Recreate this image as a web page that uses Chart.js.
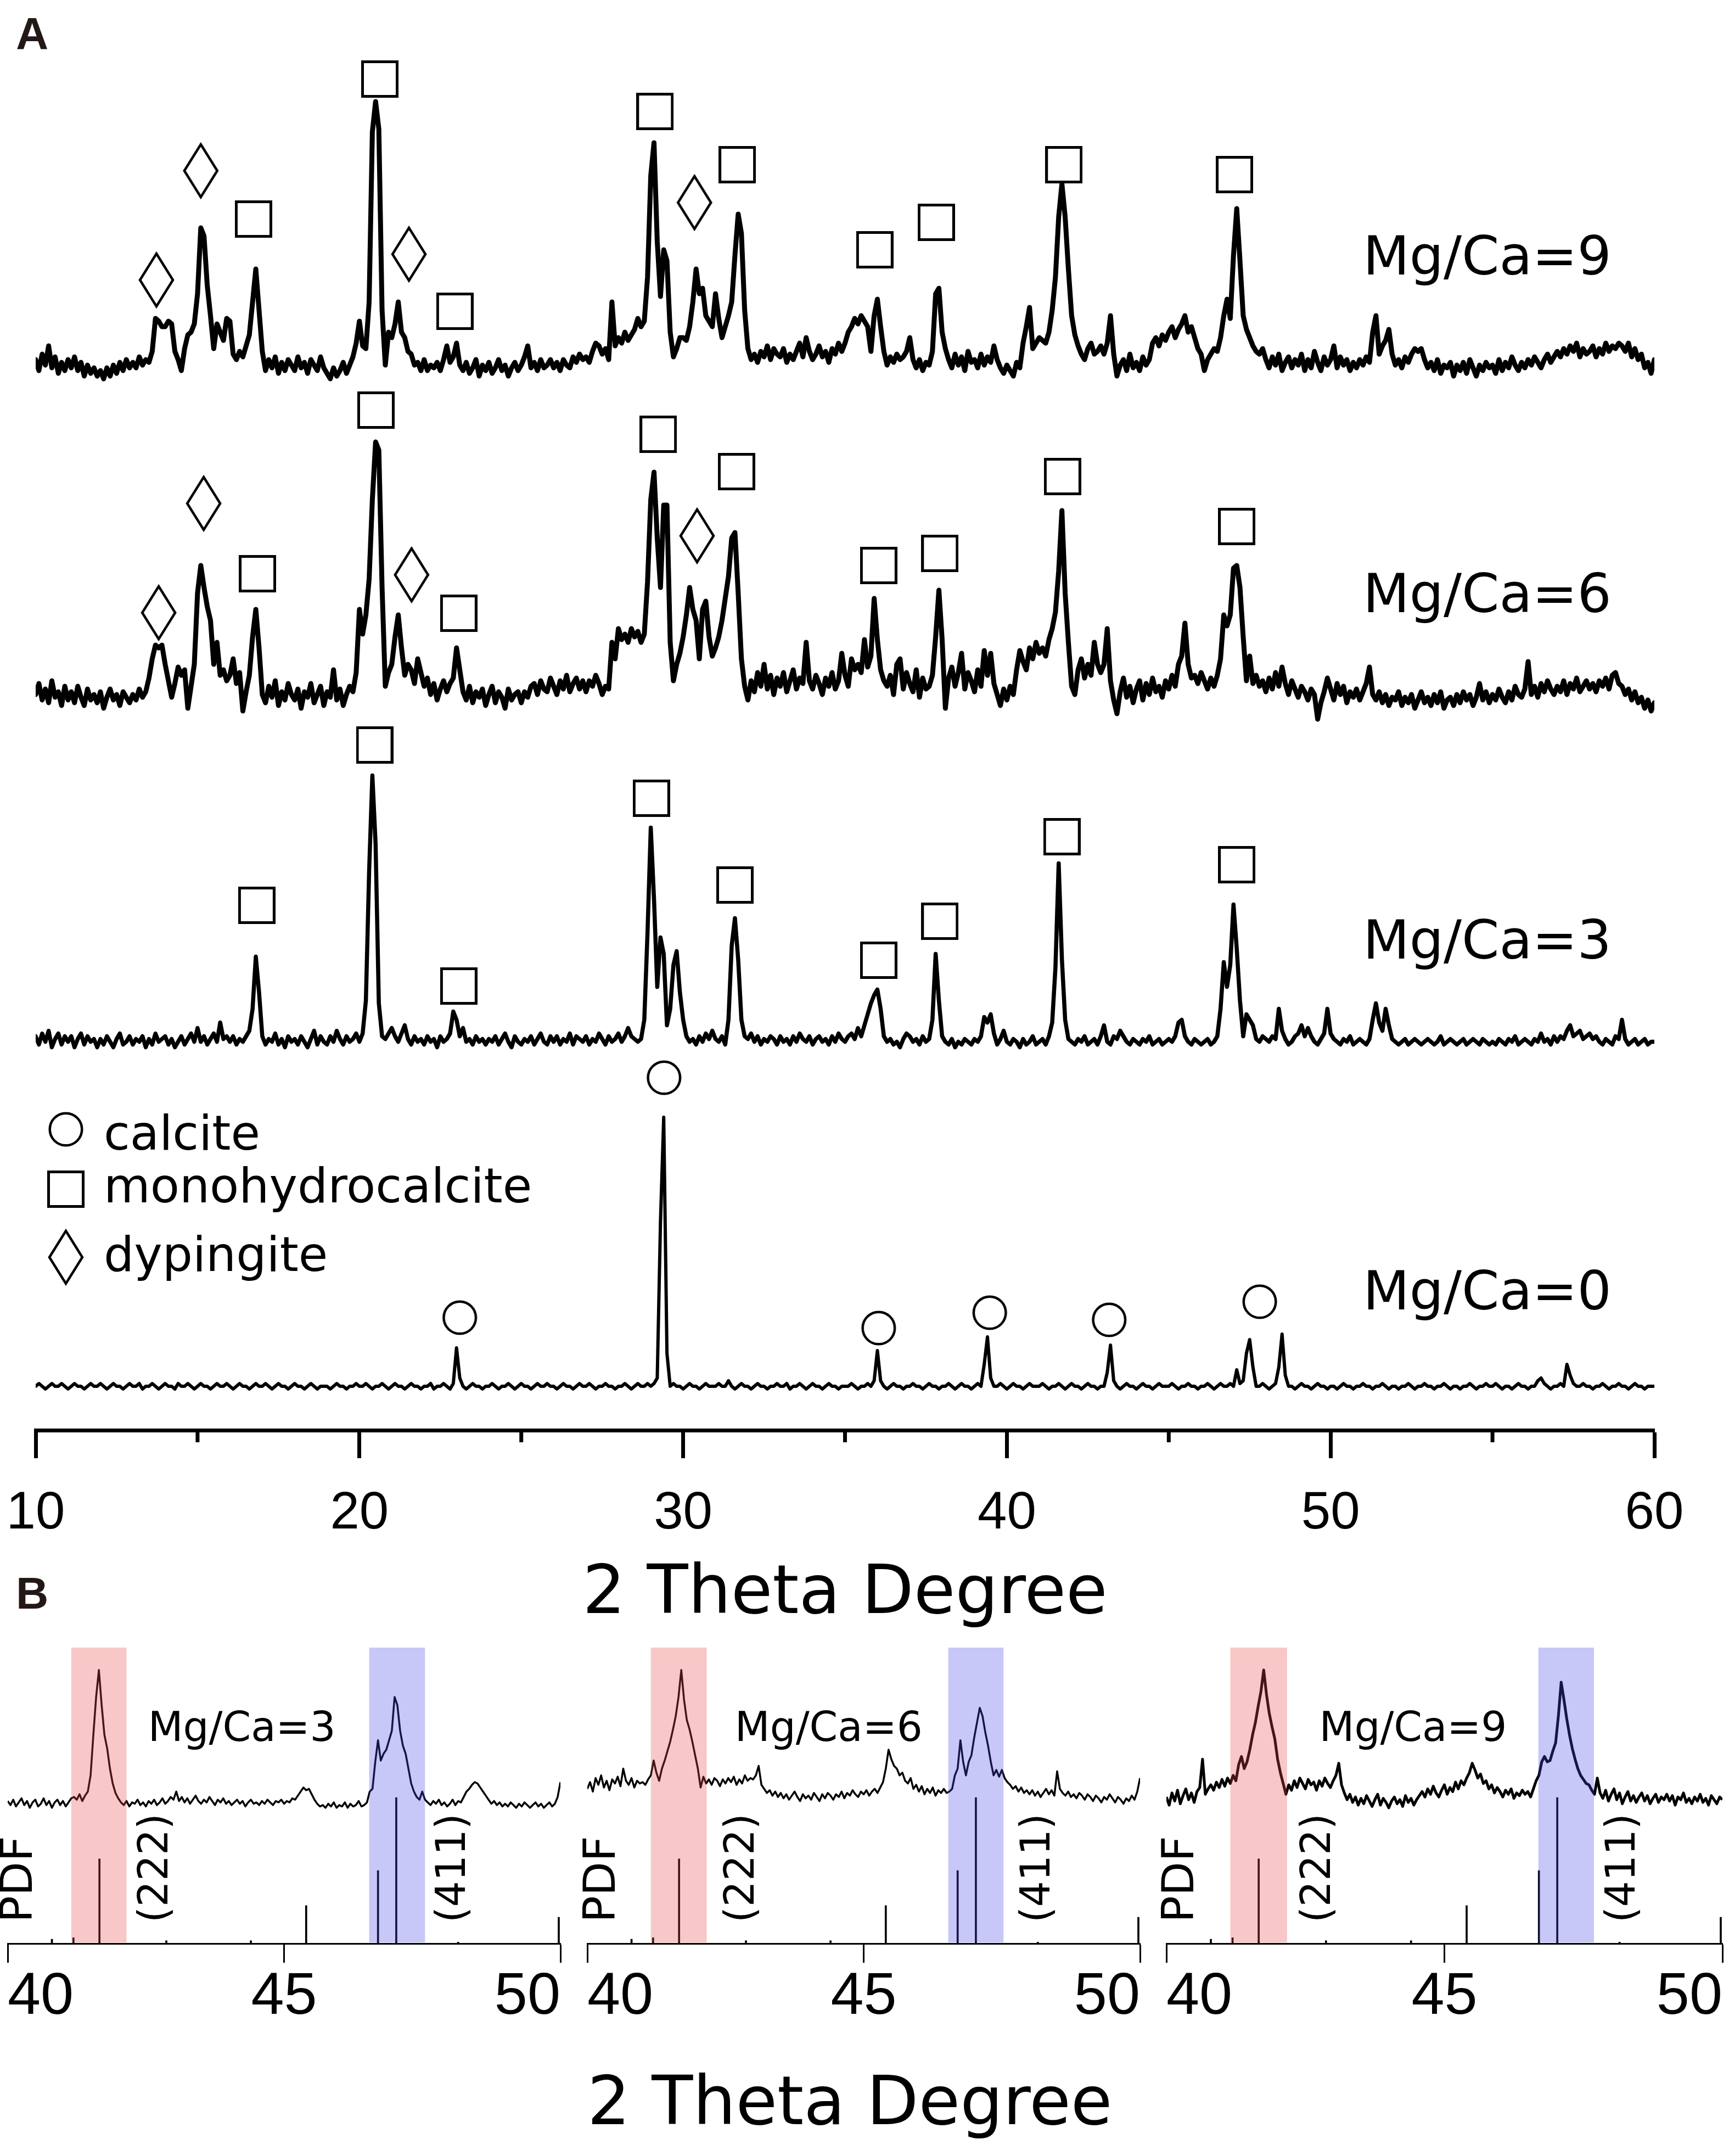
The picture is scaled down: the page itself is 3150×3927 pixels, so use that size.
<!DOCTYPE html>
<html>
<head>
<meta charset="utf-8">
<title>XRD patterns</title>
<script src="https://cdn.jsdelivr.net/npm/chart.js@4.4.1/dist/chart.umd.min.js"></script>
<style>
  html, body { margin:0; padding:0; background:#ffffff; }
  body { width:3150px; height:3927px; position:relative; overflow:hidden; }
  canvas { position:absolute; display:block; }
</style>
</head>
<body>
<canvas id="chartA" width="3150" height="3000" style="left:0;top:0;width:3150px;height:3000px;"></canvas>
<canvas id="chartB1" width="1046" height="967" style="left:0;top:2960px;width:1046px;height:967px;"></canvas>
<canvas id="chartB2" width="1052" height="967" style="left:1046px;top:2960px;width:1052px;height:967px;"></canvas>
<canvas id="chartB3" width="1052" height="967" style="left:2098px;top:2960px;width:1052px;height:967px;"></canvas>
<script>
// ---------------- DATA ----------------
// Panel A: intensity (a.u.) sampled every 0.1 deg from 10.0 to 60.0
const scanStart = 10, scanStep = 0.1;
const mgCa9 = [
12,8,14,10,17,9,13,7,11,8,
12,9,13,8,11,6,10,7,9,6,
8,5,9,6,10,7,11,8,12,9,
11,9,13,10,12,11,15,27,26,24,
24,26,25,15,12,8,16,21,22,25,
36,60,57,39,28,16,25,22,19,27,
26,14,12,15,13,17,21,33,45,30,
15,8,12,9,13,7,11,8,12,10,
8,13,9,11,7,12,10,8,13,9,
7,5,9,6,8,11,7,10,13,18,
26,17,16,33,95,106,96,30,10,22,
20,25,33,22,20,15,14,10,11,8,
12,8,10,9,11,8,12,17,11,13,
18,10,8,11,7,9,12,6,10,8,
11,7,9,12,8,10,6,9,11,8,
10,13,17,9,11,8,12,9,10,12,
9,11,8,12,10,9,13,11,14,12,
13,11,15,18,17,14,16,12,33,17,
20,18,22,19,21,23,27,24,26,42,
79,91,55,35,52,48,22,13,16,20,
20,19,24,33,45,36,38,28,26,24,
36,27,20,24,28,33,50,65,58,30,
16,12,14,11,15,13,17,12,16,14,
13,16,11,14,12,15,18,13,20,15,
12,14,17,13,15,11,16,14,18,15,
18,22,24,27,25,28,26,24,15,28,
34,24,15,10,13,11,14,12,13,15,
20,12,9,12,8,11,10,15,36,38,
22,16,12,9,14,10,13,8,15,11,
12,9,14,10,13,11,17,12,9,7,
10,8,6,11,9,18,24,31,16,18,
20,19,18,22,30,42,64,76,64,45,
28,21,17,14,12,16,18,14,15,17,
14,18,28,14,6,10,12,8,14,9,
11,8,13,10,12,18,20,17,21,19,
22,24,20,23,25,28,22,24,20,16,
14,8,12,14,16,15,20,28,34,27,
50,67,48,28,23,20,17,15,14,16,
12,9,13,10,14,8,11,13,9,12,
10,14,8,12,9,15,11,8,13,10,
12,17,9,13,10,12,8,11,9,12,
10,13,11,22,28,14,17,19,23,14,
10,12,9,13,11,14,16,15,16,12,
9,11,8,12,7,10,9,11,6,10,
8,11,7,12,9,6,10,8,11,9,
10,7,12,8,11,9,13,10,8,11,
9,12,10,13,11,9,12,14,11,13,
15,13,16,14,17,15,18,13,16,14,
15,17,13,16,14,18,15,17,16,18,
17,15,18,13,16,12,14,9,11,7,
12];
const mgCa6 = [
11,15,9,13,8,16,10,12,7,14,
9,12,8,14,10,7,13,9,11,8,
12,6,10,13,9,11,7,12,10,8,
11,9,13,10,12,17,24,29,28,29,
22,16,10,15,21,18,20,6,14,22,
48,58,50,43,38,22,30,18,20,16,
18,24,15,19,5,12,18,32,42,28,
11,8,14,10,16,7,12,9,15,11,
9,13,6,12,10,15,8,11,14,7,
12,10,20,9,13,7,11,14,12,19,
42,33,40,53,82,103,100,50,14,19,
22,32,40,28,18,22,20,15,24,19,
14,17,11,15,9,13,16,12,15,17,
28,20,12,9,14,8,12,10,13,7,
11,14,8,12,10,6,13,9,11,12,
8,12,10,14,15,11,16,13,12,17,
14,11,16,13,18,12,15,17,13,16,
12,16,14,18,15,11,14,13,30,24,
35,31,33,30,35,32,34,30,33,52,
82,92,68,50,80,80,30,16,22,26,
32,40,50,42,38,24,42,45,32,25,
28,32,38,46,54,68,70,48,24,14,
9,16,12,19,14,22,13,18,11,17,
14,19,12,16,20,13,17,15,30,16,
13,18,15,11,17,14,19,13,16,26,
18,14,24,20,22,19,31,21,25,46,
31,20,16,14,18,11,22,24,13,19,
15,12,20,10,17,13,14,18,32,49,
31,6,17,21,14,19,26,13,19,16,
12,20,14,27,18,26,15,11,7,13,
9,14,11,20,27,23,20,28,24,30,
26,28,25,31,35,41,56,78,48,30,
14,11,20,24,17,22,18,30,22,19,
22,35,16,9,4,12,17,10,14,8,
13,16,9,15,11,17,12,14,10,16,
13,18,14,22,25,37,22,17,18,15,
19,16,13,17,14,18,24,40,36,40,
57,58,50,32,16,25,15,18,14,16,
12,17,13,19,14,21,15,11,16,13,
10,14,12,9,13,11,2,8,12,17,
13,9,15,11,14,8,12,10,13,9,
12,15,21,11,9,12,8,11,7,10,
9,12,7,10,8,11,6,9,12,8,
10,7,11,8,12,6,9,10,7,11,
8,12,9,11,7,10,15,9,12,8,
11,9,13,10,8,12,9,14,11,10,
13,23,11,14,10,15,12,16,13,11,
14,12,16,11,15,13,17,12,14,16,
13,15,12,16,14,17,13,18,19,15,
14,11,13,9,12,8,10,6,9,5,
8];
const mgCa3 = [
12,9,13,10,14,8,11,13,9,12,
10,12,8,11,13,9,12,10,11,8,
11,9,12,10,8,11,13,9,10,12,
9,11,10,12,8,11,9,13,10,11,
12,9,11,8,10,12,9,11,13,10,
15,10,12,9,11,13,10,17,11,12,
10,12,9,11,10,12,14,22,41,28,
12,9,11,10,13,9,11,8,12,10,
11,9,12,10,8,11,14,9,12,10,
9,12,10,14,11,9,12,10,11,13,
10,13,25,72,107,82,24,12,11,13,
15,12,10,13,16,11,9,12,10,11,
9,12,10,11,8,12,10,11,13,21,
18,12,15,10,11,9,12,10,11,9,
11,10,12,9,11,13,10,8,12,10,
9,11,10,12,9,11,13,10,9,12,
10,12,9,11,10,13,9,12,11,10,
12,9,11,10,13,11,9,12,10,11,
13,10,12,15,12,11,10,11,18,50,
88,62,30,48,42,16,22,38,43,28,
18,12,10,11,9,12,10,13,11,14,
11,10,12,9,18,45,55,40,18,12,
11,13,10,12,9,11,10,12,11,9,
12,10,11,9,12,10,13,11,10,12,
9,11,12,10,11,9,12,10,13,11,
10,12,13,11,15,12,16,20,24,27,
29,22,12,10,11,9,10,8,11,13,
12,10,11,9,12,10,11,18,42,25,
12,10,9,11,8,10,9,11,10,9,
11,10,12,19,17,20,13,9,11,14,
10,9,11,10,8,11,9,10,12,9,
10,11,9,12,17,37,75,40,18,11,
10,9,11,10,12,9,10,11,9,12,
16,10,9,12,11,14,12,10,9,11,
10,9,11,10,12,9,10,11,9,10,
11,10,12,17,18,12,10,9,11,10,
9,10,11,9,10,12,22,39,30,38,
60,44,25,12,20,18,16,11,10,12,
11,10,12,11,22,14,11,9,10,12,
13,16,12,15,12,10,9,11,13,22,
13,11,10,9,11,10,12,9,10,11,
10,9,11,18,24,17,14,22,16,11,
10,9,10,11,9,10,11,10,9,10,
11,10,9,10,12,9,10,11,10,9,
10,11,9,10,11,10,9,11,10,9,
10,9,11,10,9,11,10,12,9,10,
11,10,9,11,10,13,10,11,9,12,
10,12,11,14,16,12,13,14,11,12,
13,11,12,10,9,11,10,9,12,11,
18,11,9,10,11,9,10,11,9,10,
10];
const mgCa0 = [
10,11,10,9,10,11,10,10,11,10,
9,10,11,10,10,9,10,11,10,10,
11,10,9,10,11,10,10,9,10,11,
10,10,11,9,10,10,11,10,9,10,
11,10,10,9,11,10,10,11,10,9,
10,11,10,10,9,10,11,10,10,11,
10,9,10,11,10,10,9,10,11,10,
10,11,10,9,10,11,10,10,9,10,
11,10,10,9,10,11,10,9,10,10,
10,9,10,11,10,10,9,10,10,11,
10,10,11,10,9,10,10,11,10,9,
10,11,10,10,9,10,11,10,10,9,
10,10,11,9,10,10,11,10,9,11,
24,13,10,9,10,11,10,10,9,10,
10,11,10,9,10,10,11,10,9,10,
11,10,10,9,10,11,10,10,11,10,
10,9,10,11,10,10,9,10,11,10,
10,11,10,9,10,10,11,10,10,9,
10,10,11,10,9,10,11,10,10,11,
10,11,13,70,108,22,10,11,10,10,
9,10,11,10,10,9,10,11,10,10,
10,11,10,10,12,10,9,10,11,10,
10,9,10,11,10,10,9,10,10,11,
10,10,11,9,10,10,11,10,9,10,
11,10,10,9,10,11,10,10,9,10,
10,10,11,10,9,10,10,11,10,12,
23,12,10,9,10,11,10,10,9,10,
10,11,10,10,9,10,11,10,10,9,
10,10,11,10,9,10,11,10,10,9,
10,11,10,18,28,13,10,10,11,10,
9,10,11,10,10,9,10,11,10,10,
10,11,10,9,10,10,11,10,9,10,
11,10,10,9,10,11,10,10,9,10,
10,15,25,12,10,9,10,11,10,10,
9,10,11,10,10,9,10,11,10,10,
10,11,10,9,10,10,11,10,10,9,
10,10,11,10,9,10,11,10,10,11,
10,16,11,12,22,27,17,10,10,11,
10,9,10,11,17,29,14,10,10,9,
10,11,10,10,9,10,11,10,10,9,
10,10,9,10,11,10,10,9,10,10,
11,10,10,9,10,10,11,10,9,10,
10,9,10,10,11,10,9,10,10,11,
10,10,9,10,10,11,10,9,10,10,
9,10,10,11,10,9,10,10,11,10,
10,11,10,9,10,10,9,10,11,10,
10,9,10,10,12,13,11,10,9,10,
10,11,10,18,14,11,10,10,11,10,
10,9,10,10,11,10,9,10,10,11,
10,10,9,10,11,10,10,9,10,10,
10];
// vertical stacking offsets of the four patterns (a.u.)
const stackOffset = { mg9: 378, mg6: 257, mg3: 131.5, mg0: 6 };

// phase markers: [2theta, height above pattern baseline]
const sq9  = [[16.73,63.2],[20.63,114.2],[22.95,29.6],[29.13,102.4],[31.67,83.0],[35.92,52.0],[37.82,62.0],[41.76,83.0],[47.03,79.4]];
const dia9 = [[13.73,41.0],[15.10,80.8],[21.53,50.4],[30.35,69.2]];
const sq6  = [[16.85,55.0],[20.51,114.6],[23.07,40.6],[29.23,105.8],[31.65,92.2],[36.04,58.0],[37.93,62.4],[41.72,90.4],[47.10,72.2]];
const dia6 = [[13.80,40.8],[15.19,80.6],[21.61,54.6],[30.43,68.8]];
const sq3  = [[16.83,59.7],[20.47,118.1],[23.07,30.3],[29.02,98.7],[31.60,67.1],[36.04,39.7],[37.93,53.9],[41.70,84.7],[47.10,74.5]];
const circ0 = [[23.10,35.0],[29.41,122.4],[36.04,31.2],[39.47,36.8],[43.16,34.2],[47.81,40.8]];

const ticksA = [10, 20, 30, 40, 50, 60];
const minorTicksA = [15, 25, 35, 45, 55];

// Panel B: 40-50 deg zoom, sampled every 0.05 deg
const zoomStart = 40, zoomStep = 0.05;
const zoom3 = [
21,18,22,17,20,23,18,21,16,20,
22,17,19,23,18,21,16,20,22,18,
21,17,20,23,24,22,26,21,25,28,
40,70,98,118,92,70,60,45,34,27,
23,20,18,21,17,20,19,22,18,20,
17,21,19,22,18,20,23,19,21,24,
22,28,21,24,20,23,19,22,25,21,
19,22,20,24,21,18,22,20,23,19,
21,18,20,22,19,21,17,20,22,19,
20,18,21,19,22,20,18,21,20,22,
19,21,20,23,22,25,28,31,29,30,
26,22,19,17,18,16,19,17,20,16,
18,17,20,16,19,17,18,21,17,18,
20,28,30,50,66,51,56,59,66,73,
98,92,73,62,56,45,34,28,24,22,
28,22,20,18,21,19,22,18,20,17,
19,22,18,21,20,24,28,30,33,35,
34,31,28,25,22,19,21,18,20,17,
19,17,20,18,16,19,17,20,18,16,
18,20,17,19,16,18,20,17,19,24,
35];
const zoom6 = [
30,35,28,38,33,40,31,36,29,37,
34,39,32,45,36,33,38,31,36,34,
35,33,37,40,51,42,36,45,51,58,
65,74,84,98,118,96,81,74,65,55,
45,31,39,34,37,33,38,36,32,37,
34,38,35,39,33,37,34,40,36,38,
37,40,47,33,30,27,29,25,28,24,
27,23,26,22,25,28,24,21,26,23,
25,22,27,24,21,26,23,27,25,22,
26,24,28,23,27,25,29,26,24,28,
26,29,25,28,30,27,31,35,45,59,
52,47,45,40,42,36,34,38,30,33,
28,32,26,30,27,31,25,29,27,30,
27,28,30,40,45,66,50,40,50,55,
68,79,90,84,72,62,50,40,44,39,
44,38,35,33,30,32,28,31,27,29,
26,29,25,28,24,27,30,26,29,25,
43,30,27,25,28,24,26,23,27,25,
22,26,24,21,25,23,20,24,22,26,
23,20,24,22,19,23,21,25,22,28,
38];
const zoom9 = [
24,18,27,21,29,19,25,30,22,27,
20,28,31,52,26,30,33,29,35,31,
37,32,38,34,40,36,48,54,45,50,
59,70,79,91,102,118,100,86,76,67,
52,42,34,26,33,29,36,31,38,34,
30,37,33,35,29,36,32,38,34,31,
36,40,49,33,27,22,26,20,24,18,
23,19,25,21,17,22,26,18,23,20,
16,21,24,19,22,17,25,20,23,18,
22,25,28,24,30,26,32,27,24,29,
33,26,31,28,35,30,36,33,38,42,
49,44,38,41,34,36,30,33,27,31,
28,24,29,26,30,23,27,25,29,26,
28,24,30,36,40,50,54,50,51,58,
64,84,109,96,82,70,60,52,45,40,
37,34,33,29,26,38,27,23,29,21,
26,30,22,27,19,24,28,21,25,20,
24,27,21,25,19,23,26,20,24,22,
26,21,25,18,24,22,27,20,23,19,
24,21,26,20,23,18,25,22,19,24,
22];
// PDF reference lines (2theta, relative intensity)
const pdfAngles    = [40.80, 41.19, 41.66, 42.87, 44.40, 45.40, 46.70, 47.03, 48.15, 49.97];
const pdfIntensity = [3, 4, 58, 2, 2, 26, 50, 100, 1, 18];
// highlighted (222) and (411) reflection windows per sample
const bands3 = [[41.15, 42.15], [46.54, 47.55]];
const bands6 = [[41.15, 42.16], [46.53, 47.53]];
const bands9 = [[41.15, 42.17], [46.69, 47.69]];
const ticksB = [40, 45, 50];

// ---------------- RENDERING ----------------
const SANS = '"DejaVu Sans", "Liberation Sans", sans-serif';
const ARIAL = '"Liberation Sans", Arial, sans-serif';
Chart.defaults.font.family = ARIAL;
Chart.defaults.color = '#000';

function makeMarker(kind) {
  const c = document.createElement('canvas');
  if (kind === 'square') { c.width = 68; c.height = 68; }
  else if (kind === 'diamond') { c.width = 72; c.height = 116; }
  else { c.width = 68; c.height = 68; }
  const ctx = c.getContext('2d');
  ctx.strokeStyle = '#000';
  if (kind === 'square') {
    ctx.lineWidth = 5; ctx.strokeRect(2.5, 2.5, 63, 63);
  } else if (kind === 'diamond') {
    ctx.lineWidth = 4.5; ctx.lineJoin = 'miter';
    ctx.beginPath(); ctx.moveTo(36, 10); ctx.lineTo(66, 58); ctx.lineTo(36, 106); ctx.lineTo(6, 58); ctx.closePath(); ctx.stroke();
  } else {
    ctx.lineWidth = 4.5; ctx.beginPath(); ctx.arc(34, 34, 29.3, 0, Math.PI * 2); ctx.stroke();
  }
  return c;
}
const squareImg = makeMarker('square');
const diamondImg = makeMarker('diamond');
const circleImg = makeMarker('circle');

function scanPoints(values, start, step, shift) {
  return values.map((v, i) => ({ x: +(start + i * step).toFixed(3), y: v + shift }));
}
function traceSet(values, shift, width) {
  return { type: 'line', data: scanPoints(values, scanStart, scanStep, shift), borderColor: '#000',
    borderWidth: width, pointRadius: 0, tension: 0, fill: false, borderJoinStyle: 'round', borderCapStyle: 'round' };
}
function markerSet(points, shift, img) {
  return { type: 'scatter', data: points.map(([x, h]) => ({ x: x, y: h + shift })), pointStyle: img,
    pointRadius: 4, pointHoverRadius: 4, showLine: false, clip: false, borderWidth: 0 };
}

const traceLabels = [
  { text: 'Mg/Ca=9', at: 51.0, y: 421 },
  { text: 'Mg/Ca=6', at: 51.0, y: 298 },
  { text: 'Mg/Ca=3', at: 51.0, y: 171.8 },
  { text: 'Mg/Ca=0', at: 51.0, y: 44 }
];
const legendRows = [
  { img: circleImg, text: 'calcite', cy: 2057, base: 2094 },
  { img: squareImg, text: 'monohydrocalcite', cy: 2166, base: 2190 },
  { img: diamondImg, text: 'dypingite', cy: 2290, base: 2315 }
];

const panelAPlugin = {
  id: 'panelA',
  afterDraw(chart) {
    const { ctx, chartArea: a, scales: { x, y } } = chart;
    ctx.save();
    ctx.strokeStyle = '#000'; ctx.lineWidth = 7; ctx.lineCap = 'butt';
    minorTicksA.forEach(v => {
      const px = x.getPixelForValue(v);
      ctx.beginPath(); ctx.moveTo(px, a.bottom); ctx.lineTo(px, a.bottom + 22); ctx.stroke();
    });
    ctx.fillStyle = '#000'; ctx.textAlign = 'left'; ctx.textBaseline = 'alphabetic';
    ctx.font = '98px ' + SANS;
    traceLabels.forEach(t => ctx.fillText(t.text, x.getPixelForValue(t.at), y.getPixelForValue(t.y)));
    ctx.font = '87px ' + SANS;
    legendRows.forEach(r => {
      ctx.drawImage(r.img, 120 - r.img.width / 2, r.cy - r.img.height / 2);
      ctx.fillText(r.text, 189, r.base);
    });
    ctx.fillStyle = '#231815'; ctx.font = 'bold 82px ' + ARIAL;
    ctx.fillText('A', 29, 89);
    ctx.fillText('B', 29, 2930);
    ctx.restore();
  }
};

new Chart(document.getElementById('chartA'), {
  type: 'line',
  data: {
    datasets: [
      traceSet(mgCa9, stackOffset.mg9, 9),
      traceSet(mgCa6, stackOffset.mg6, 9),
      traceSet(mgCa3, stackOffset.mg3, 7.5),
      traceSet(mgCa0, stackOffset.mg0, 6),
      markerSet(sq9, stackOffset.mg9, squareImg),
      markerSet(dia9, stackOffset.mg9, diamondImg),
      markerSet(sq6, stackOffset.mg6, squareImg),
      markerSet(dia6, stackOffset.mg6, diamondImg),
      markerSet(sq3, stackOffset.mg3, squareImg),
      markerSet(circ0, stackOffset.mg0, circleImg)
    ]
  },
  options: {
    responsive: false, animation: false, devicePixelRatio: 1, events: [],
    layout: { padding: { left: 65, right: 136, top: 105, bottom: 0 } },
    plugins: { legend: { display: false }, tooltip: { enabled: false }, title: { display: false } },
    scales: {
      x: {
        type: 'linear', min: 10, max: 60, offset: false,
        afterBuildTicks(s) { s.ticks = ticksA.map(v => ({ value: v })); },
        ticks: { font: { family: ARIAL, size: 96, lineHeight: 2.1 }, color: '#000', padding: 1, maxRotation: 0, autoSkip: false },
        grid: { drawOnChartArea: false, drawTicks: true, tickLength: 51, tickWidth: 7, tickColor: '#000', offset: false },
        border: { display: true, width: 7, color: '#000' },
        title: { display: true, text: '2 Theta Degree', font: { family: SANS, size: 123 }, color: '#000', padding: { top: 0, bottom: 20 } },
        afterFit(s) { s.height = 395; }
      },
      y: { display: false, min: 0, max: 500 }
    }
  },
  plugins: [panelAPlugin]
});

function zoomPlugin(cfg) {
  return {
    id: 'zoomDecor',
    afterDatasetsDraw(chart) {
      const { ctx, chartArea: a, scales: { x } } = chart;
      ctx.save();
      cfg.bands.forEach((b, k) => {
        const x1 = x.getPixelForValue(b[0]), x2 = x.getPixelForValue(b[1]);
        ctx.fillStyle = k === 0 ? 'rgba(232,70,70,0.30)' : 'rgba(70,70,232,0.30)';
        ctx.fillRect(x1, a.top, x2 - x1, a.bottom - a.top - 2);
      });
      ctx.restore();
    },
    afterDraw(chart) {
      const { ctx, chartArea: a, scales: { x, yT } } = chart;
      ctx.save();
      ctx.fillStyle = '#000';
      ctx.font = '74px ' + SANS; ctx.textAlign = 'left'; ctx.textBaseline = 'alphabetic';
      ctx.fillText(cfg.label, x.getPixelForValue(cfg.labelAt), yT.getPixelForValue(65.5));
      const vert = (txt, at, size) => {
        ctx.save();
        ctx.translate(x.getPixelForValue(at), a.bottom - 38);
        ctx.rotate(-Math.PI / 2);
        ctx.font = size + 'px ' + SANS; ctx.textAlign = 'left'; ctx.textBaseline = 'middle';
        ctx.fillText(txt, 0, 0);
        ctx.restore();
      };
      vert('PDF', cfg.pdfAt, 81);
      vert('(222)', cfg.h222, 74);
      vert('(411)', cfg.h411, 74);
      ctx.restore();
    }
  };
}

function zoomChart(id, values, cfg) {
  return new Chart(document.getElementById(id), {
    type: 'line',
    data: {
      datasets: [
        { type: 'line', data: scanPoints(values, zoomStart, zoomStep, 0), yAxisID: 'yT', borderColor: '#000',
          borderWidth: cfg.width, pointRadius: 0, tension: 0, fill: false, borderJoinStyle: 'round' },
        { type: 'bar', data: pdfAngles.map((t, i) => ({ x: t, y: pdfIntensity[i] })), yAxisID: 'yPdf',
          backgroundColor: '#000', borderWidth: 0, barThickness: 3 }
      ]
    },
    options: {
      responsive: false, animation: false, devicePixelRatio: 1, events: [],
      layout: { padding: { left: cfg.padL, right: cfg.padR, top: 41, bottom: 0 } },
      plugins: { legend: { display: false }, tooltip: { enabled: false }, title: { display: false } },
      scales: {
        x: {
          type: 'linear', min: 40, max: 50, offset: false,
          afterBuildTicks(s) { s.ticks = ticksB.map(v => ({ value: v })); },
          ticks: { align: 'inner', padding: -2, font: { family: ARIAL, size: 108 }, color: '#000', maxRotation: 0, autoSkip: false },
          grid: { drawOnChartArea: false, drawTicks: true, tickLength: 35, tickWidth: 3, tickColor: '#000', offset: false },
          border: { display: true, width: 3, color: '#000' },
          title: cfg.title
            ? { display: true, text: '2 Theta Degree', align: 'start', font: { family: SANS, size: 123 }, color: '#000', padding: { top: 0, bottom: 16 } }
            : { display: false },
          afterFit(s) { s.height = 387; }
        },
        yT: { display: false, min: -84.5, max: 134.6 },
        yPdf: { display: false, min: 0, max: 202.6 }
      }
    },
    plugins: [zoomPlugin(cfg)]
  });
}

zoomChart('chartB1', zoom3, { label: 'Mg/Ca=3', labelAt: 42.54, bands: bands3, pdfAt: 40.23, h222: 42.70, h411: 48.08, width: 3.5, padL: 14, padR: 25, title: false });
zoomChart('chartB2', zoom6, { label: 'Mg/Ca=6', labelAt: 42.67, bands: bands6, pdfAt: 40.29, h222: 42.82, h411: 48.17, width: 3.5, padL: 24, padR: 21, title: true });
zoomChart('chartB3', zoom9, { label: 'Mg/Ca=9', labelAt: 42.75, bands: bands9, pdfAt: 40.28, h222: 42.75, h411: 48.23, width: 5, padL: 27, padR: 12, title: false });
</script>
</body>
</html>
